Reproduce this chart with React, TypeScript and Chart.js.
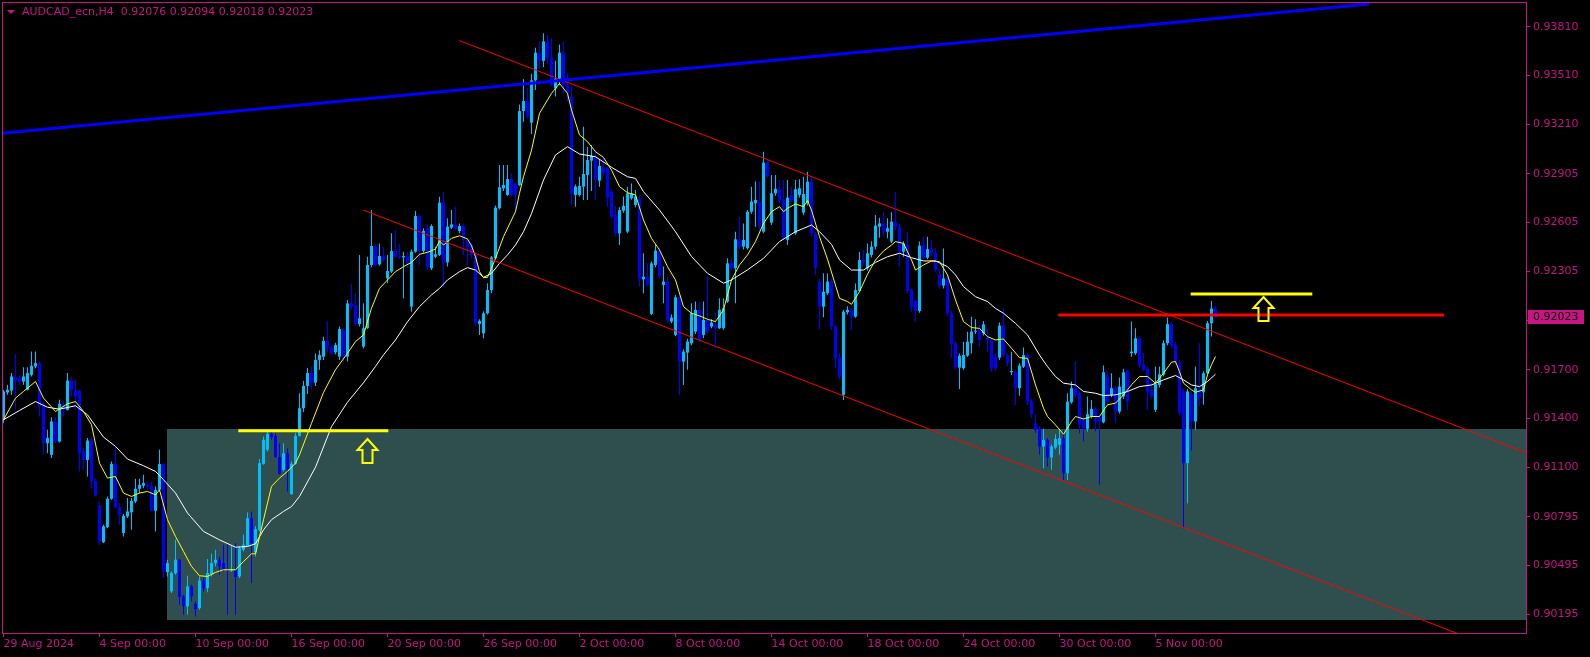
import React, { useEffect, useRef } from 'react';
import { Chart, registerables } from 'chart.js';

Chart.register(...registerables);

// ---------------- DATA (AUDCAD_ecn, H4) ----------------
const symbolTitle = 'AUDCAD_ecn,H4';

const opens = [
  0.91391,0.91560,0.91572,0.91654,0.91648,0.91627,0.91576,0.91668,0.91720,0.91740,
  0.91480,0.91248,0.91176,0.91381,0.91258,0.91484,0.91453,0.91633,0.91572,0.91572,
  0.91197,0.91145,0.91273,0.91016,0.90865,0.90639,0.90731,0.90906,0.91121,0.90854,
  0.90695,0.90797,0.90822,0.90889,0.90967,0.90986,0.90992,0.90986,0.90832,0.90961,
  0.91119,0.90455,0.90336,0.90449,0.90531,0.90305,0.90244,0.90367,0.90260,0.90233,
  0.90403,0.90356,0.90442,0.90510,0.90531,0.90510,0.90473,0.90465,0.90465,0.90428,
  0.90592,0.90617,0.90787,0.90576,0.90715,0.91121,0.91207,0.91305,0.91293,0.91162,
  0.91084,0.91186,0.90934,0.91121,0.91293,0.91463,0.91600,0.91680,0.91620,0.91760,
  0.91780,0.91877,0.91836,0.91807,0.91780,0.91944,0.91780,0.92108,0.92098,0.91981,
  0.91842,0.91955,0.92344,0.92461,0.92348,0.92399,0.92262,0.92303,0.92430,0.92399,
  0.92391,0.92399,0.92088,0.92426,0.92645,0.92430,0.92570,0.92324,0.92395,0.92406,
  0.92729,0.92360,0.92574,0.92590,0.92553,0.92584,0.92498,0.92467,0.92406,0.91981,
  0.91924,0.92047,0.92190,0.92385,0.92693,0.92816,0.92775,0.92873,0.92842,0.92836,
  0.93291,0.93353,0.93220,0.93480,0.93650,0.93600,0.93720,0.93620,0.93430,0.93490,
  0.93650,0.93450,0.93380,0.92775,0.92775,0.92826,0.92898,0.92986,0.93006,0.92863,
  0.92945,0.92939,0.92795,0.92652,0.92539,0.92678,0.92549,0.92754,0.92713,0.92754,
  0.92256,0.92272,0.92043,0.92344,0.92432,0.92221,0.92242,0.91996,0.91914,0.92145,
  0.91750,0.91805,0.91862,0.91934,0.92068,0.91914,0.92006,0.91965,0.91975,0.91955,
  0.91955,0.92119,0.92354,0.92324,0.92502,0.92457,0.92447,0.92672,0.92724,0.92734,
  0.92549,0.92974,0.92605,0.92785,0.92812,0.92744,0.92498,0.92775,0.92539,0.92775,
  0.92666,0.92724,0.92857,0.92539,0.92242,0.92088,0.92170,0.92246,0.91965,0.91774,
  0.91545,0.92053,0.92067,0.92026,0.92184,0.92375,0.92324,0.92406,0.92457,0.92580,
  0.92600,0.92549,0.92488,0.92606,0.92580,0.92426,0.92467,0.92190,0.92123,0.92061,
  0.92467,0.92389,0.92442,0.92416,0.92287,0.92217,0.92262,0.92047,0.91862,0.91713,
  0.91709,0.91786,0.91862,0.91934,0.91954,0.91924,0.91897,0.91883,0.91780,0.91774,
  0.91971,0.91786,0.91684,0.91688,0.91586,0.91719,0.91790,0.91508,0.91370,0.91340,
  0.91227,0.91268,0.91160,0.91221,0.91237,0.91278,0.91063,0.91500,0.91590,0.91555,
  0.91401,0.91336,0.91412,0.91459,0.91412,0.91377,0.91658,0.91545,0.91586,0.91442,
  0.91535,0.91693,0.91801,0.91801,0.91893,0.91730,0.91705,0.91576,0.91453,0.91606,
  0.91668,0.91863,0.91980,0.91853,0.91746,0.91566,0.91125,0.91549,0.91381,0.91586,
  0.91561,0.91678,0.91986,0.92076,
];

const highs = [
  0.91576,0.91607,0.91679,0.91797,0.91668,0.91715,0.91715,0.91812,0.91812,0.91750,
  0.91500,0.91330,0.91408,0.91408,0.91515,0.91510,0.91679,0.91658,0.91638,0.91576,
  0.91217,0.91279,0.91279,0.91033,0.90889,0.90746,0.90920,0.91135,0.91228,0.90879,
  0.90813,0.90910,0.90910,0.91029,0.91029,0.91053,0.91012,0.91012,0.90981,0.91207,
  0.91125,0.90531,0.90459,0.90654,0.90535,0.90315,0.90432,0.90377,0.90274,0.90428,
  0.90418,0.90535,0.90567,0.90592,0.90551,0.90623,0.90623,0.90613,0.90633,0.90613,
  0.90684,0.90822,0.90828,0.90736,0.91150,0.91289,0.91320,0.91330,0.91310,0.91248,
  0.91248,0.91217,0.91135,0.91310,0.91555,0.91630,0.91710,0.91720,0.91800,0.91820,
  0.91903,0.92000,0.91850,0.91865,0.91965,0.91955,0.92129,0.92225,0.92170,0.92406,
  0.92108,0.92395,0.92682,0.92470,0.92477,0.92457,0.92406,0.92539,0.92559,0.92471,
  0.92426,0.92426,0.92440,0.92676,0.92655,0.92570,0.92594,0.92594,0.92457,0.92764,
  0.92795,0.92631,0.92682,0.92703,0.92600,0.92595,0.92510,0.92480,0.92410,0.92010,
  0.92060,0.92231,0.92400,0.92710,0.92959,0.92959,0.92959,0.92908,0.92850,0.93332,
  0.93488,0.93435,0.93520,0.93680,0.93720,0.93770,0.93760,0.93740,0.93600,0.93700,
  0.93720,0.93520,0.93450,0.92840,0.92887,0.93195,0.93072,0.93082,0.93052,0.92990,
  0.93010,0.92950,0.92810,0.92707,0.92700,0.92765,0.92826,0.92846,0.92805,0.92770,
  0.92416,0.92354,0.92365,0.92473,0.92450,0.92334,0.92270,0.92040,0.92160,0.92160,
  0.91825,0.91890,0.92109,0.92119,0.92119,0.92119,0.92272,0.92010,0.92047,0.92139,
  0.92139,0.92385,0.92385,0.92549,0.92641,0.92600,0.92682,0.92826,0.92857,0.92857,
  0.93041,0.92990,0.92898,0.92898,0.92867,0.92867,0.92867,0.92826,0.92867,0.92871,
  0.92887,0.92918,0.92887,0.92550,0.92260,0.92293,0.92293,0.92260,0.91975,0.91800,
  0.92067,0.92090,0.92080,0.92230,0.92426,0.92436,0.92477,0.92490,0.92651,0.92635,
  0.92668,0.92631,0.92668,0.92795,0.92600,0.92490,0.92549,0.92200,0.92130,0.92488,
  0.92518,0.92518,0.92500,0.92450,0.92320,0.92446,0.92280,0.92060,0.91875,0.91800,
  0.91872,0.91934,0.92026,0.92010,0.91975,0.92000,0.91954,0.91890,0.91800,0.91990,
  0.92077,0.91800,0.91811,0.91700,0.91740,0.91836,0.91800,0.91520,0.91426,0.91350,
  0.91336,0.91280,0.91240,0.91303,0.91336,0.91330,0.91555,0.91627,0.91754,0.91570,
  0.91420,0.91535,0.91514,0.91470,0.91420,0.91725,0.91690,0.91678,0.91600,0.91652,
  0.91705,0.91700,0.91996,0.91955,0.91904,0.91801,0.91720,0.91620,0.91719,0.91719,
  0.91880,0.92021,0.91996,0.91870,0.91760,0.91586,0.91580,0.91570,0.91719,0.91863,
  0.91690,0.92000,0.92123,0.92094,
];

const lows = [
  0.91371,0.91545,0.91545,0.91457,0.91607,0.91607,0.91572,0.91658,0.91709,0.91412,
  0.91176,0.91186,0.91156,0.91248,0.91252,0.91412,0.91449,0.91535,0.91453,0.91074,
  0.91084,0.91043,0.90971,0.90920,0.90623,0.90633,0.90725,0.90900,0.90848,0.90746,
  0.90674,0.90787,0.90715,0.90879,0.90940,0.90971,0.90961,0.90828,0.90705,0.90951,
  0.90418,0.90428,0.90326,0.90438,0.90254,0.90192,0.90192,0.90274,0.90182,0.90223,
  0.90336,0.90330,0.90428,0.90490,0.90438,0.90459,0.90192,0.90455,0.90192,0.90418,
  0.90582,0.90613,0.90387,0.90551,0.90705,0.91115,0.91197,0.91269,0.91156,0.91053,
  0.91074,0.90950,0.90930,0.91115,0.91289,0.91440,0.91550,0.91580,0.91600,0.91700,
  0.91760,0.91810,0.91790,0.91795,0.91760,0.91750,0.91750,0.92070,0.91970,0.91965,
  0.91830,0.91950,0.92330,0.92330,0.92340,0.92365,0.92231,0.92295,0.92390,0.92380,
  0.92139,0.92324,0.92057,0.92420,0.92344,0.92420,0.92313,0.92313,0.92385,0.92400,
  0.92211,0.92334,0.92565,0.92555,0.92539,0.92406,0.92344,0.92385,0.91965,0.91914,
  0.91893,0.92040,0.92170,0.92380,0.92685,0.92800,0.92770,0.92765,0.92672,0.92830,
  0.93226,0.93240,0.93150,0.93420,0.93550,0.93560,0.93580,0.93440,0.93380,0.93450,
  0.93400,0.93350,0.92713,0.92703,0.92765,0.92744,0.92744,0.92800,0.92744,0.92826,
  0.92890,0.92703,0.92630,0.92519,0.92467,0.92665,0.92540,0.92745,0.92700,0.92211,
  0.92170,0.92210,0.92037,0.92330,0.92260,0.92109,0.91990,0.91985,0.91905,0.91545,
  0.91606,0.91699,0.91850,0.91920,0.91870,0.91893,0.91920,0.91955,0.91832,0.91950,
  0.91945,0.92110,0.92310,0.92109,0.92440,0.92440,0.92440,0.92660,0.92580,0.92549,
  0.92540,0.92880,0.92590,0.92770,0.92725,0.92500,0.92467,0.92730,0.92530,0.92760,
  0.92650,0.92710,0.92520,0.92283,0.91945,0.92022,0.92160,0.91944,0.91709,0.91640,
  0.91514,0.92040,0.91944,0.92020,0.92180,0.92340,0.92310,0.92390,0.92440,0.92512,
  0.92520,0.92508,0.92480,0.92560,0.92334,0.92395,0.92170,0.92057,0.91995,0.92050,
  0.92380,0.92380,0.92400,0.92300,0.92200,0.92200,0.92030,0.91774,0.91700,0.91581,
  0.91700,0.91780,0.91800,0.91920,0.91840,0.91910,0.91811,0.91688,0.91690,0.91760,
  0.91780,0.91720,0.91668,0.91483,0.91540,0.91710,0.91483,0.91401,0.91310,0.91176,
  0.91094,0.91104,0.91084,0.91210,0.91176,0.91022,0.91022,0.91490,0.91530,0.91309,
  0.91258,0.91320,0.91400,0.91320,0.90992,0.91370,0.91490,0.91530,0.91371,0.91430,
  0.91520,0.91453,0.91780,0.91790,0.91710,0.91690,0.91453,0.91520,0.91440,0.91590,
  0.91660,0.91850,0.91830,0.91730,0.91420,0.90725,0.90879,0.91201,0.91330,0.91473,
  0.91484,0.91670,0.91904,0.92018,
];

const closes = [
  0.91566,0.91576,0.91658,0.91633,0.91627,0.91658,0.91679,0.91724,0.91740,0.91474,
  0.91248,0.91279,0.91381,0.91258,0.91490,0.91453,0.91633,0.91576,0.91535,0.91186,
  0.91145,0.91264,0.91012,0.90926,0.90643,0.90736,0.90906,0.91121,0.90854,0.90807,
  0.90801,0.90828,0.90893,0.90967,0.90992,0.91002,0.90981,0.90832,0.90961,0.91119,
  0.90459,0.90510,0.90449,0.90531,0.90301,0.90244,0.90367,0.90305,0.90227,0.90403,
  0.90356,0.90449,0.90510,0.90531,0.90490,0.90469,0.90465,0.90473,0.90424,0.90600,
  0.90623,0.90787,0.90633,0.90719,0.91125,0.91269,0.91305,0.91285,0.91162,0.91059,
  0.91186,0.91088,0.91121,0.91293,0.91463,0.91600,0.91680,0.91620,0.91760,0.91790,
  0.91877,0.91832,0.91801,0.91852,0.91950,0.91780,0.92108,0.92088,0.91981,0.92016,
  0.91955,0.92344,0.92461,0.92344,0.92399,0.92375,0.92307,0.92430,0.92395,0.92391,
  0.92399,0.92348,0.92426,0.92645,0.92430,0.92553,0.92328,0.92584,0.92410,0.92727,
  0.92360,0.92580,0.92594,0.92565,0.92584,0.92498,0.92451,0.92406,0.91985,0.92000,
  0.92047,0.92190,0.92391,0.92697,0.92822,0.92836,0.92873,0.92775,0.92775,0.93291,
  0.93353,0.93256,0.93480,0.93650,0.93600,0.93720,0.93620,0.93450,0.93490,0.93650,
  0.93450,0.93400,0.92785,0.92826,0.92830,0.92904,0.92990,0.93015,0.92867,0.92953,
  0.92912,0.92760,0.92641,0.92539,0.92682,0.92707,0.92785,0.92785,0.92765,0.92256,
  0.92272,0.92221,0.92354,0.92432,0.92277,0.92242,0.92002,0.92020,0.92145,0.91750,
  0.91811,0.91873,0.92047,0.92068,0.91883,0.92006,0.91934,0.91990,0.91955,0.92068,
  0.92078,0.92354,0.92324,0.92502,0.92457,0.92498,0.92672,0.92734,0.92744,0.92580,
  0.92974,0.92892,0.92785,0.92812,0.92740,0.92508,0.92758,0.92744,0.92810,0.92816,
  0.92781,0.92857,0.92539,0.92324,0.92088,0.92180,0.92242,0.91965,0.91770,0.91657,
  0.92057,0.92067,0.92026,0.92190,0.92375,0.92360,0.92416,0.92457,0.92586,0.92600,
  0.92549,0.92570,0.92611,0.92580,0.92426,0.92477,0.92184,0.92088,0.92061,0.92463,
  0.92389,0.92442,0.92416,0.92313,0.92217,0.92262,0.92047,0.91856,0.91713,0.91786,
  0.91790,0.91872,0.91934,0.91940,0.91883,0.91979,0.91883,0.91709,0.91709,0.91971,
  0.91790,0.91739,0.91692,0.91586,0.91725,0.91790,0.91504,0.91426,0.91329,0.91227,
  0.91268,0.91160,0.91227,0.91274,0.91278,0.91063,0.91504,0.91586,0.91545,0.91360,
  0.91336,0.91426,0.91459,0.91381,0.91381,0.91684,0.91504,0.91586,0.91442,0.91596,
  0.91684,0.91504,0.91811,0.91893,0.91725,0.91699,0.91565,0.91535,0.91611,0.91672,
  0.91863,0.91980,0.91848,0.91746,0.91432,0.91125,0.91566,0.91381,0.91586,0.91525,
  0.91678,0.91986,0.92076,0.92023,
];

// fast moving average (yellow) at bar indices
const fastMaBars = [
  0,3,5,8,10,13,16,18,20,22,24,26,28,30,32,34,36,38,39,41,43,45,47,49,51,53,55,58,60,62,63,65,67,69,71,73,74,
  77,80,83,86,88,90,92,94,96,98,100,102,104,106,108,109,110,112,114,116,117,118,119,120,121,122,123,125,127,128,129,130,
  132,134,137,139,141,142,144,146,148,150,152,154,156,158,160,162,164,166,168,170,172,174,176,178,180,182,184,186,188,190,
  192,194,195,196,198,200,201,202,204,206,209,211,212,214,216,218,220,222,223,225,227,228,230,232,234,236,238,240,242,244,
  246,248,250,252,254,256,258,260,261,263,265,267,268,270,272,274,276,278,280,282,284,286,288,290,292,293,294,295,297,298,
  300,301,302,303,
];
const fastMaValues = [
  0.91392,0.91525,0.91566,0.91627,0.91525,0.91443,0.91490,0.91504,0.91443,0.91361,0.91125,0.91033,0.91043,0.90941,0.90920,
  0.90941,0.90951,0.90930,0.90961,0.90777,0.90674,0.90582,0.90490,0.90432,0.90428,0.90453,0.90469,0.90469,0.90520,0.90567,
  0.90567,0.90777,0.90982,0.91033,0.91074,0.91125,0.91176,
  0.91370,0.91560,0.91700,0.91801,0.91873,0.91914,0.92078,0.92200,0.92252,0.92303,0.92334,0.92360,0.92410,0.92422,0.92442,
  0.92492,0.92467,0.92508,0.92524,0.92504,0.92463,0.92395,0.92303,0.92266,0.92268,0.92324,0.92385,0.92518,0.92621,0.92672,
  0.92785,0.92887,
  0.93050,0.93277,0.93400,0.93461,0.93400,0.93298,0.93144,0.93103,0.93041,0.93006,0.92928,0.92826,0.92789,0.92775,0.92621,
  0.92508,0.92437,0.92334,0.92252,0.92088,0.92047,0.92031,0.92010,0.91996,0.92068,0.92252,0.92344,0.92406,0.92488,0.92600,
  0.92672,0.92703,0.92672,0.92693,0.92719,0.92703,0.92740,0.92682,0.92518,0.92380,0.92139,0.92119,0.92102,0.92180,0.92287,
  0.92375,0.92430,0.92467,0.92488,0.92477,0.92375,0.92313,0.92344,0.92369,0.92364,0.92283,0.92129,0.91996,0.91959,0.91954,
  0.91903,0.91883,0.91889,0.91832,0.91774,0.91770,0.91606,0.91463,0.91412,0.91360,0.91303,0.91381,0.91412,0.91397,0.91412,
  0.91412,0.91484,0.91494,0.91545,0.91607,0.91658,0.91658,0.91617,0.91678,0.91746,0.91750,0.91688,0.91617,0.91576,0.91561,
  0.91576,0.91668,0.91730,0.91781,
];

// slow moving average (white)
const slowMaBars = [
  0,4,8,11,14,18,21,25,28,31,35,38,40,43,46,50,54,58,61,63,65,67,70,72,74,78,82,86,90,93,95,98,101,104,107,109,111,114,
  116,118,120,122,124,126,128,130,132,135,138,141,144,148,152,156,158,160,164,168,172,176,180,182,186,190,194,198,202,204,
  207,209,212,215,218,221,224,227,230,233,236,238,240,243,246,248,250,253,256,259,261,263,265,268,270,273,275,278,281,284,
  287,290,293,295,297,299,301,303,
];
const slowMaValues = [
  0.91392,0.91449,0.91504,0.91469,0.91457,0.91478,0.91422,0.91285,0.91228,0.91150,0.91109,0.91074,0.91023,0.90941,0.90818,
  0.90705,0.90653,0.90608,0.90612,0.90629,0.90715,0.90777,0.90828,0.90858,0.90920,0.91100,0.91350,0.91500,0.91620,0.91720,
  0.91791,0.91883,0.91995,0.92088,0.92160,0.92200,0.92252,0.92303,0.92328,0.92313,0.92268,0.92293,0.92354,0.92406,0.92467,
  0.92549,0.92660,0.92867,0.93021,0.93072,0.93027,0.93010,0.92945,0.92887,0.92877,0.92795,0.92682,0.92549,0.92396,0.92293,
  0.92232,0.92252,0.92314,0.92385,0.92488,0.92549,0.92590,0.92549,0.92471,0.92375,0.92313,0.92313,0.92360,0.92395,0.92416,
  0.92389,0.92369,0.92369,0.92334,0.92283,0.92211,0.92149,0.92119,0.92077,0.92047,0.91985,0.91914,0.91790,0.91719,0.91658,
  0.91617,0.91606,0.91566,0.91555,0.91541,0.91545,0.91566,0.91596,0.91606,0.91637,0.91664,0.91637,0.91606,0.91596,0.91627,
  0.91672,
];

// drawn objects: [bar, price] pairs
const blueTrendBars = [-0.4, 341.4];
const blueTrendPrices = [0.93154, 0.93950];
const channelUpperBars = [113.95, 380.6];
const channelUpperPrices = [0.93725, 0.91189];
const channelLowerBars = [89.95, 380.6];
const channelLowerPrices = [0.92682, 0.89914];
const redLevelBars = [263.7, 360.1];
const redLevelPrice = 0.92037;
const yellowLevel1Bars = [58.7, 96.2];
const yellowLevel1Price = 0.91325;
const yellowLevel2Bars = [296.8, 327.2];
const yellowLevel2Price = 0.92166;
const arrowBars = [90.9, 314.9];
const arrowPrices = [0.91274, 0.92147];
const zoneStartBar = 40.8;
const zoneEndBar = 400;
const zoneTop = 0.91336;
const zoneBottom = 0.90157;

// axes
const xTickBars = [0, 24, 48, 72, 96, 120, 144, 168, 192, 216, 240, 264, 288];
const xTickLabels = [
  '29 Aug 2024', '4 Sep 00:00', '10 Sep 00:00', '16 Sep 00:00', '20 Sep 00:00', '26 Sep 00:00',
  '2 Oct 00:00', '8 Oct 00:00', '14 Oct 00:00', '18 Oct 00:00', '24 Oct 00:00', '30 Oct 00:00', '5 Nov 00:00',
];
const yTickLabels = [
  '0.93810', '0.93510', '0.93210', '0.92905', '0.92605', '0.92305', '0.92000',
  '0.91700', '0.91400', '0.91100', '0.90795', '0.90495', '0.90195',
];
const yMin = 0.90080;
const yMax = 0.93962;
const xMin = -0.375;
const xMax = 380.625;

// ---------------- STYLE ----------------
const MAG = '#C71585';
const BULL = '#00BFFF';
const BEAR = '#0000FF';
const FONT = 'DejaVu Sans';

function drawUpArrow(ctx: CanvasRenderingContext2D, tx: number, ty: number) {
  ctx.save();
  ctx.beginPath();
  ctx.moveTo(tx, ty);
  ctx.lineTo(tx + 10, ty + 11);
  ctx.lineTo(tx + 5, ty + 11);
  ctx.lineTo(tx + 5, ty + 24);
  ctx.lineTo(tx - 5, ty + 24);
  ctx.lineTo(tx - 5, ty + 11);
  ctx.lineTo(tx - 10, ty + 11);
  ctx.closePath();
  ctx.lineJoin = 'miter';
  ctx.strokeStyle = '#FFFF00';
  ctx.lineWidth = 2;
  ctx.stroke();
  ctx.restore();
}

const mtPlugin = {
  id: 'mtDecor',
  beforeDraw(chart: any) {
    const { ctx, width, height } = chart;
    ctx.save();
    ctx.fillStyle = '#000';
    ctx.fillRect(0, 0, width, height);
    ctx.restore();
  },
  beforeDatasetsDraw(chart: any) {
    const { ctx, chartArea: a, scales } = chart;
    const x = scales.x;
    const y = scales.y;
    ctx.save();
    ctx.beginPath();
    ctx.rect(a.left, a.top, a.right - a.left, a.bottom - a.top);
    ctx.clip();
    const x1 = Math.round(x.getPixelForValue(zoneStartBar));
    const x2 = Math.round(x.getPixelForValue(zoneEndBar));
    const y1 = Math.round(y.getPixelForValue(zoneTop));
    const y2 = Math.round(y.getPixelForValue(zoneBottom));
    ctx.fillStyle = '#2F4F4F';
    ctx.fillRect(x1, y1, x2 - x1, y2 - y1);
    ctx.restore();
  },
  afterDatasetsDraw(chart: any) {
    const { ctx, chartArea: a, scales } = chart;
    ctx.save();
    ctx.beginPath();
    ctx.rect(a.left, a.top, a.right - a.left, a.bottom - a.top);
    ctx.clip();
    for (let i = 0; i < arrowBars.length; i++) {
      const px = Math.round(scales.x.getPixelForValue(arrowBars[i])) + 0.5;
      const py = Math.round(scales.y.getPixelForValue(arrowPrices[i]));
      drawUpArrow(ctx, px, py);
    }
    ctx.restore();
  },
  afterDraw(chart: any) {
    const { ctx, chartArea: a, scales } = chart;
    ctx.save();
    // frame
    ctx.strokeStyle = MAG;
    ctx.lineWidth = 1;
    ctx.strokeRect(a.left + 0.5, a.top + 0.5, a.right - a.left, a.bottom - a.top);
    // current price label
    const last = closes.length - 1;
    const py = Math.round(scales.y.getPixelForValue(closes[last]));
    ctx.fillStyle = MAG;
    ctx.fillRect(a.right + 2, py - 7, 56, 14);
    ctx.fillStyle = '#000';
    ctx.font = `11px "${FONT}"`;
    ctx.textBaseline = 'middle';
    ctx.textAlign = 'left';
    ctx.fillText(closes[last].toFixed(5), a.right + 7, py + 0.5);
    // title
    ctx.fillStyle = MAG;
    ctx.beginPath();
    ctx.moveTo(7, 10);
    ctx.lineTo(15, 10);
    ctx.lineTo(11, 14);
    ctx.closePath();
    ctx.fill();
    const t = `${symbolTitle}  ${opens[last].toFixed(5)} ${highs[last].toFixed(5)} ${lows[last].toFixed(5)} ${closes[last].toFixed(5)}`;
    ctx.fillText(t, 22, 12.5);
    ctx.restore();
  },
};

export default function App() {
  const canvasRef = useRef<HTMLCanvasElement | null>(null);

  useEffect(() => {
    document.body.style.margin = '0';
    document.body.style.background = '#000';
    const canvas = canvasRef.current;
    if (!canvas) return;

    const idx = opens.map((_, i) => i);
    const colors = idx.map((i) => (closes[i] >= opens[i] ? BULL : BEAR));
    const bodyData = idx.map((i) => ({ x: i, y: [opens[i], closes[i]] }));
    const wickData = idx.map((i) => ({ x: i, y: [lows[i], highs[i]] }));
    const pts = (bars: number[], vals: number[]) => bars.map((b, i) => ({ x: b, y: vals[i] }));
    const flat = (bars: number[], v: number) => bars.map((b) => ({ x: b, y: v }));

    const lineDs = (label: string, data: any[], color: string, width: number, order: number) => ({
      type: 'line' as const,
      label,
      data,
      borderColor: color,
      backgroundColor: color,
      borderWidth: width,
      pointRadius: 0,
      pointHoverRadius: 0,
      tension: 0,
      fill: false,
      clip: 0,
      order,
    });

    const chart = new Chart(canvas, {
      type: 'bar',
      data: {
        datasets: [
          {
            type: 'bar',
            label: 'wicks',
            data: wickData as any,
            backgroundColor: colors,
            barThickness: 1,
            grouped: false,
            inflateAmount: 0,
            borderWidth: 0,
            order: 20,
          } as any,
          {
            type: 'bar',
            label: 'bodies',
            data: bodyData as any,
            backgroundColor: colors,
            barThickness: 3,
            minBarLength: 1,
            grouped: false,
            inflateAmount: 0,
            borderWidth: 0,
            order: 19,
          } as any,
          lineDs('slowMA', pts(slowMaBars, slowMaValues), '#FFFFFF', 1, 10),
          lineDs('fastMA', pts(fastMaBars, fastMaValues), '#FFFF00', 1, 9),
          lineDs('channelUpper', pts(channelUpperBars, channelUpperPrices), '#FF0000', 1, 8),
          lineDs('channelLower', pts(channelLowerBars, channelLowerPrices), '#FF0000', 1, 8),
          lineDs('blueTrend', pts(blueTrendBars, blueTrendPrices), '#0000FF', 3, 7),
          lineDs('redLevel', flat(redLevelBars, redLevelPrice), '#FF0000', 3, 6),
          lineDs('yellowLevel1', flat(yellowLevel1Bars, yellowLevel1Price), '#FFFF00', 3, 6),
          lineDs('yellowLevel2', flat(yellowLevel2Bars, yellowLevel2Price), '#FFFF00', 3, 6),
        ] as any,
      },
      options: {
        responsive: false,
        animation: false,
        devicePixelRatio: 1,
        events: [],
        layout: { padding: { left: 2, top: 2, right: 0, bottom: 0 } },
        plugins: { legend: { display: false }, tooltip: { enabled: false }, title: { display: false } },
        scales: {
          x: {
            type: 'linear',
            min: xMin,
            max: xMax,
            offset: false,
            bounds: 'ticks',
            grid: { offset: false, drawOnChartArea: false, drawTicks: true, tickLength: 4, color: MAG },
            border: { display: false },
            afterBuildTicks: (s: any) => {
              s.ticks = xTickBars.map((v) => ({ value: v }));
            },
            afterFit: (s: any) => {
              s.height = 24;
              s.paddingLeft = 0;
              s.paddingRight = 0;
            },
            ticks: {
              autoSkip: false,
              maxRotation: 0,
              minRotation: 0,
              align: 'start',
              padding: 1,
              color: MAG,
              font: { family: FONT, size: 11 },
              callback: (_v: any, i: number) => xTickLabels[i],
            },
          } as any,
          y: {
            type: 'linear',
            position: 'right',
            min: yMin,
            max: yMax,
            grid: { drawOnChartArea: false, drawTicks: true, tickLength: 4, color: MAG },
            border: { display: false },
            afterBuildTicks: (s: any) => {
              s.ticks = yTickLabels.map((l) => ({ value: parseFloat(l) }));
            },
            afterFit: (s: any) => {
              s.width = 64;
              s.paddingTop = 0;
              s.paddingBottom = 0;
            },
            ticks: {
              autoSkip: false,
              padding: 3,
              color: MAG,
              font: { family: FONT, size: 11 },
              callback: (_v: any, i: number) => yTickLabels[i],
            },
          } as any,
        },
      },
      plugins: [mtPlugin],
    });

    return () => chart.destroy();
  }, []);

  return (
    <div style={{ width: 1590, height: 657, background: '#000' }}>
      <canvas ref={canvasRef} width={1590} height={657} style={{ display: 'block' }} />
    </div>
  );
}
